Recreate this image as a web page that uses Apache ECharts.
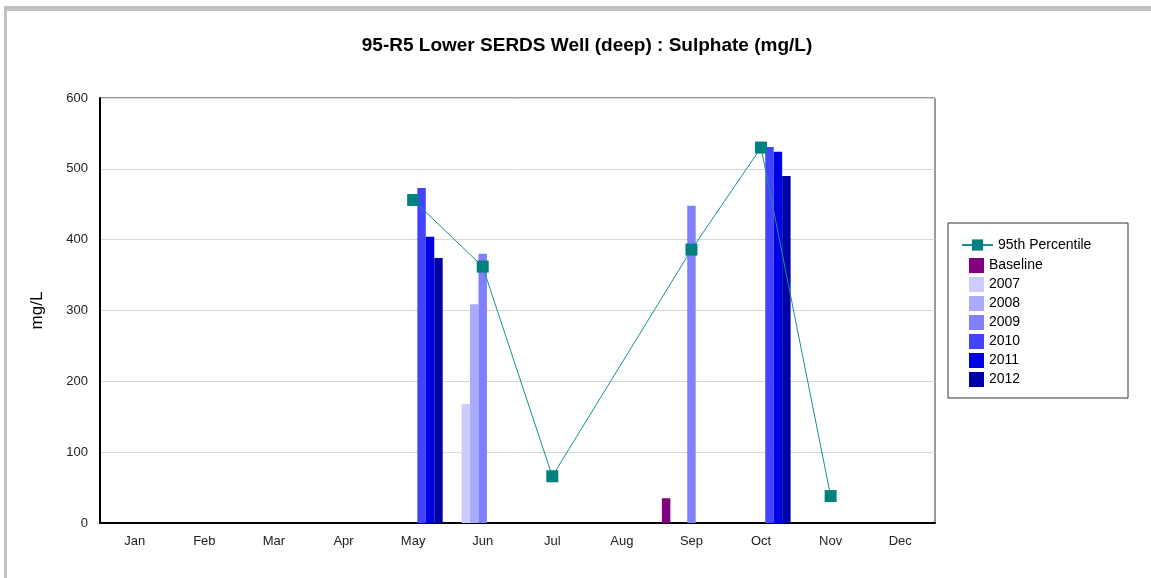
<!DOCTYPE html>
<html>
<head>
<meta charset="utf-8">
<script src="https://cdn.jsdelivr.net/npm/echarts@6/dist/echarts.min.js"></script>
<style>
  html, body { margin: 0; padding: 0; background: #fff; }
  #chart { width: 1151px; height: 578px; }
</style>
</head>
<body>
<div id="chart"></div>
<script>
var months = ['Jan', 'Feb', 'Mar', 'Apr', 'May', 'Jun', 'Jul', 'Aug', 'Sep', 'Oct', 'Nov', 'Dec']

// 95th percentile line
var percentile95 = [null, null, null, null, 456, 362, 66, null, 386, 530, 38, null]

// bar series per year
var baseline = [null, null, null, null, null, null, null, null, 35, null, null, null]
var y2007 = [null, null, null, null, null, 168, null, null, null, null, null, null]
var y2008 = [null, null, null, null, null, 309, null, null, null, null, null, null]
var y2009 = [null, null, null, null, null, 380, null, null, 448, null, null, null]
var y2010 = [null, null, null, null, 473, null, null, null, null, 531, null, null]
var y2011 = [null, null, null, null, 404, null, null, null, null, 524, null, null]
var y2012 = [null, null, null, null, 374, null, null, null, null, 490, null, null]

var barNames = ['Baseline', '2007', '2008', '2009', '2010', '2011', '2012']
var barData = [baseline, y2007, y2008, y2009, y2010, y2011, y2012]
var barColors = ['#800080', '#ccccff', '#aaaaff', '#8080ff', '#4242ff', '#0000e4', '#0000a8']

var chart = echarts.init(document.getElementById('chart'))

var series = [{
  name: '95th Percentile',
  type: 'line',
  data: percentile95,
  connectNulls: true,
  symbol: 'rect',
  symbolSize: 12,
  z: 5,
  itemStyle: { color: '#008080' },
  lineStyle: { color: '#1a9090', width: 1 },
  animation: false
}]
barNames.forEach(function (name, i) {
  series.push({
    name: name,
    type: 'bar',
    data: barData[i],
    barGap: 0,
    barCategoryGap: '15%',
    itemStyle: { color: barColors[i] },
    animation: false
  })
})

chart.setOption({
  textStyle: { fontFamily: 'Liberation Sans, Arial, sans-serif' },
  title: {
    text: '95-R5 Lower SERDS Well (deep) : Sulphate (mg/L)',
    left: 582,
    top: 31,
    textAlign: 'center',
    textStyle: { fontSize: 19, fontWeight: 'bold', color: '#000' }
  },
  grid: {
    left: 100,
    right: 216,
    top: 98,
    bottom: 55,
    show: true,
    borderColor: '#333',
    borderWidth: 1
  },
  legend: [{
    data: ['95th Percentile'],
    orient: 'vertical',
    left: 956,
    top: 233,
    itemWidth: 31,
    itemHeight: 14,
    textStyle: { fontSize: 14, color: '#000' }
  }, {
    data: barNames,
    orient: 'vertical',
    left: 964,
    top: 253,
    itemWidth: 15,
    itemHeight: 15,
    itemGap: 4,
    icon: 'rect',
    textStyle: { fontSize: 14, color: '#000' }
  }],
  graphic: [
    { type: 'rect', shape: { x: 948, y: 223, width: 180, height: 175 }, style: { fill: 'none', stroke: '#333', lineWidth: 1 } },
    { type: 'rect', shape: { x: 4, y: 6, width: 1147, height: 5 }, style: { fill: '#c0c0c0' } },
    { type: 'rect', shape: { x: 4, y: 6, width: 3, height: 572 }, style: { fill: '#c0c0c0' } }
  ],
  xAxis: {
    type: 'category',
    data: months,
    boundaryGap: true,
    axisLine: { lineStyle: { color: '#000', width: 2 } },
    axisTick: { alignWithLabel: true, length: 5, lineStyle: { color: '#666' } },
    axisLabel: { color: '#222', fontSize: 13, margin: 12 }
  },
  yAxis: {
    type: 'value',
    min: 0,
    max: 600,
    interval: 100,
    name: 'mg/L',
    nameLocation: 'middle',
    nameGap: 54,
    nameRotate: 90,
    nameTextStyle: { fontSize: 17, color: '#000' },
    axisLine: { show: true, lineStyle: { color: '#000', width: 2 } },
    axisTick: { show: false },
    axisLabel: { color: '#222', fontSize: 13, margin: 12 },
    splitLine: { lineStyle: { color: '#d8d8d8', width: 1 } }
  },
  series: series
})
</script>
</body>
</html>
